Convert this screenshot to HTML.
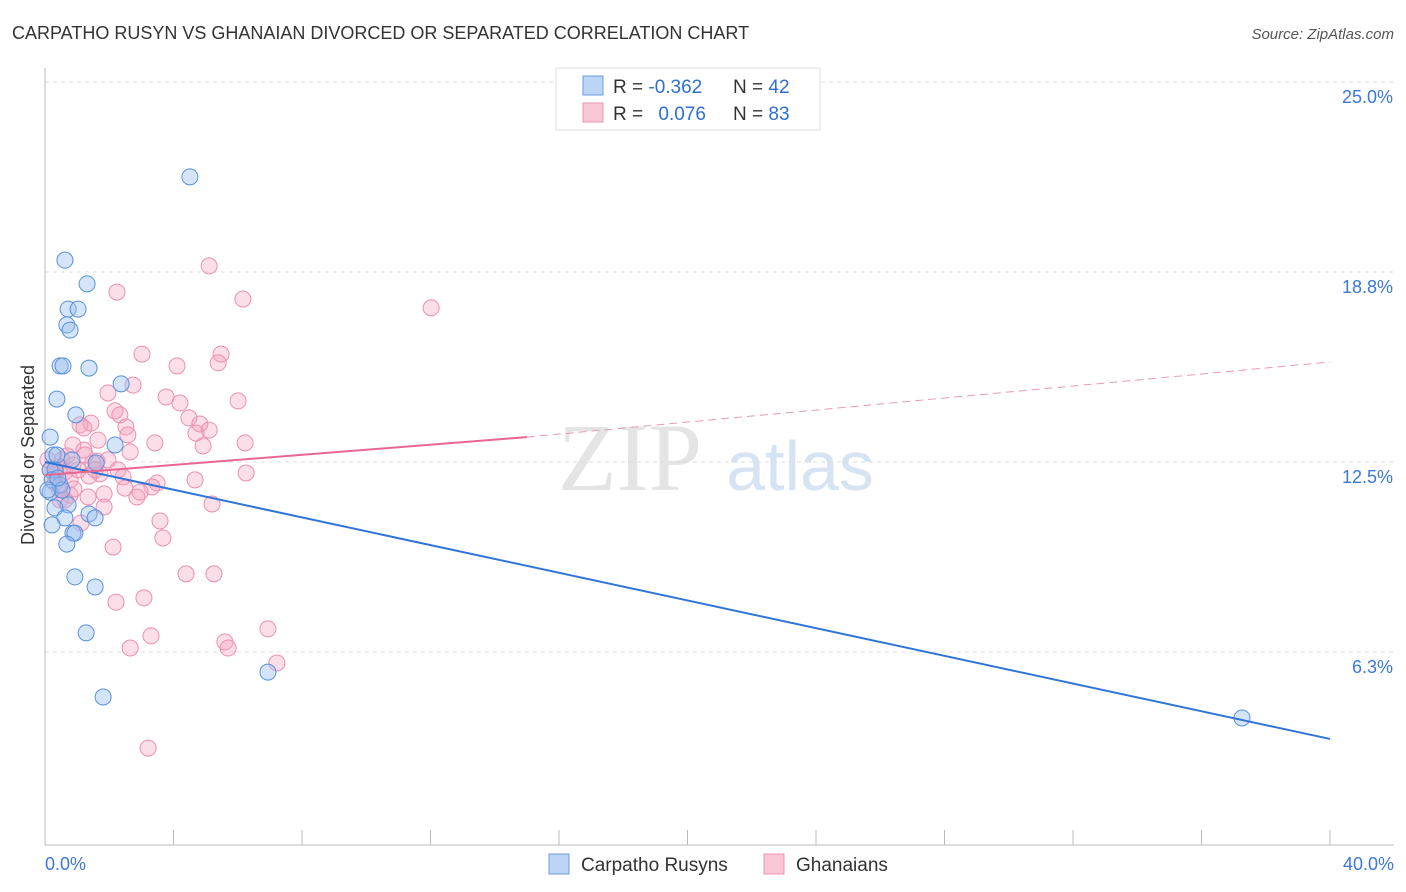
<!DOCTYPE html>
<html><head><meta charset="utf-8"><style>
body{margin:0;background:#fff;font-family:"Liberation Sans",sans-serif;}
#wrap{position:relative;width:1406px;height:892px;overflow:hidden;}
</style></head><body>
<div id="wrap">
<svg id="chart" width="1406" height="892">
<text x="12" y="39" font-size="18" fill="#333">CARPATHO RUSYN VS GHANAIAN DIVORCED OR SEPARATED CORRELATION CHART</text>
<text x="1394" y="39" font-size="15" fill="#555" font-style="italic" text-anchor="end">Source: ZipAtlas.com</text>
<text x="630" y="490" font-size="96" fill="#e4e4e4" font-family="Liberation Serif,serif" text-anchor="middle">ZIP</text>
<text x="800" y="490" font-size="70" fill="#d6e3f3" text-anchor="middle">atlas</text>
<text transform="translate(34,455) rotate(-90)" font-size="18" fill="#333" text-anchor="middle">Divorced or Separated</text>
<g id="grid"></g><g id="axes"></g><g id="pts"></g><g id="lines"></g>
<g>
<rect x="556" y="68" width="264" height="62" fill="#fff" stroke="#ddd"/>
<rect x="583" y="76" width="20" height="19" fill="#bcd4f5" stroke="#6a9be0"/>
<rect x="583" y="103" width="20" height="19" fill="#f9c6d6" stroke="#ec93b0"/>
<text x="613" y="93" font-size="19" fill="#333">R = <tspan fill="#2f6fd0">-0.362</tspan><tspan x="733">N = </tspan><tspan fill="#2f6fd0">42</tspan></text>
<text x="613" y="120" font-size="19" fill="#333">R = <tspan fill="#2f6fd0" dx="10">0.076</tspan><tspan x="733">N = </tspan><tspan fill="#2f6fd0">83</tspan></text>
</g>
<g>
<rect x="549" y="854" width="20" height="20" fill="#bcd4f5" stroke="#6a9be0"/>
<text x="581" y="871" font-size="19" fill="#333">Carpatho Rusyns</text>
<rect x="764" y="854" width="20" height="20" fill="#f9c6d6" stroke="#ec93b0"/>
<text x="796" y="871" font-size="19" fill="#333">Ghanaians</text>
</g>
</svg></div>
<script>
const yTicks=[6.25,12.5,18.75,25];
const yTickLabels=["6.3%","12.5%","18.8%","25.0%"];
const xTickLabels=["0.0%","40.0%"];
const rusynX=[4.51,0.62,1.31,0.72,1.03,0.68,0.78,0.47,0.56,1.37,2.37,0.37,0.96,0.16,2.18,0.25,0.37,0.84,1.59,0.16,0.31,0.22,0.16,0.47,0.53,0.72,0.31,1.37,1.56,0.62,0.22,0.87,0.93,0.68,0.93,1.56,1.28,1.81,6.94,37.26,0.09,0.40];
const rusynY=[21.88,19.14,18.36,17.53,17.53,17.01,16.84,15.66,15.66,15.59,15.07,14.57,14.05,13.32,13.06,12.73,12.73,12.57,12.47,12.24,12.24,11.91,11.51,11.74,11.58,11.09,10.99,10.79,10.66,10.66,10.43,10.16,10.16,9.80,8.72,8.39,6.88,4.77,5.59,4.08,11.58,11.97];
const ghanaX=[5.11,2.24,6.16,12.02,3.02,5.48,4.11,5.39,2.74,1.96,3.77,6.01,4.20,2.18,4.48,2.33,1.43,1.09,1.21,2.52,4.82,5.11,4.70,2.58,3.42,6.23,4.92,1.21,2.65,0.68,1.62,1.49,0.87,0.47,0.62,0.31,6.26,1.71,2.43,1.37,4.67,3.49,3.33,2.49,2.96,0.78,1.84,1.34,2.86,0.44,0.90,5.20,1.84,3.58,1.12,3.67,2.12,4.39,5.26,2.21,3.08,3.30,6.94,5.60,5.70,2.65,7.22,3.21,0.34,0.53,0.78,1.03,0.16,0.31,0.62,1.96,1.56,2.27,1.25,0.47,1.65,0.87,0.09];
const ghanaY=[18.95,18.09,17.86,17.57,16.05,16.05,15.66,15.76,15.03,14.77,14.64,14.51,14.44,14.18,13.95,14.05,13.78,13.72,13.62,13.65,13.75,13.55,13.45,13.39,13.13,13.13,13.03,12.89,12.83,12.70,12.53,12.47,12.40,12.34,12.17,12.07,12.14,12.11,12.01,12.04,11.91,11.81,11.68,11.64,11.51,11.41,11.45,11.35,11.35,11.61,11.61,11.12,11.02,10.56,10.49,10.0,9.70,8.82,8.82,7.89,8.03,6.78,7.01,6.58,6.38,6.38,5.89,3.09,12.17,12.57,11.91,12.24,12.24,11.81,11.25,12.57,12.24,12.24,12.73,11.25,13.22,13.06,12.57];
const rusynTrend=[[0,12.5],[40,3.39]];
const ghanaTrend=[[0,12.07],[15.0,13.32],[40,15.79]];
const NS="http://www.w3.org/2000/svg";
const sx=v=>45+v/40*1285, sy=v=>462-(v-12.5)*30.4;
function mk(tag,attrs,parent){const e=document.createElementNS(NS,tag);for(const k in attrs)e.setAttribute(k,attrs[k]);document.getElementById(parent).appendChild(e);return e;}
yTicks.forEach((t,i)=>{
 const g=mk('line',{x1:45,x2:1394,y1:sy(t),y2:sy(t),stroke:'#ddd','stroke-dasharray':'4,4'},'grid');
 
 
 const l=mk('text',{x:1393,y:sy(t)+21,'font-size':18,fill:'#3b78d8','text-anchor':'end'},'grid');
 l.textContent=yTickLabels[i];
 
 
});
let ax=mk('line',{x1:45,x2:45,y1:68,y2:845,stroke:'#bbb'},'axes');


let bx=mk('line',{x1:45,x2:1394,y1:845,y2:845,stroke:'#bbb'},'axes');


for(let i=0;i<=10;i++){const v=i*4;const t=mk('line',{x1:sx(v),x2:sx(v),y1:830,y2:845,stroke:'#bbb'},'axes');
 
 }
[[0,'start',45],[40,'end',1394]].forEach((d,i)=>{const t=mk('text',{x:d[2],y:870,'font-size':18,fill:'#3b78d8','text-anchor':d[1]},'axes');t.textContent=xTickLabels[i];
 
 });
ghanaX.forEach((x,i)=>{const c=mk('circle',{cx:sx(x),cy:sy(ghanaY[i]),r:8,fill:'rgba(244,160,190,0.35)',stroke:'#ec8fb0','stroke-width':1},'pts');
 
 });
rusynX.forEach((x,i)=>{const c=mk('circle',{cx:sx(x),cy:sy(rusynY[i]),r:8,fill:'rgba(150,190,240,0.4)',stroke:'#5a90dc','stroke-width':1},'pts');
 
 });
let l1=mk('line',{x1:sx(rusynTrend[0][0]),y1:sy(rusynTrend[0][1]),x2:sx(rusynTrend[1][0]),y2:sy(rusynTrend[1][1]),stroke:'#2f74d6','stroke-width':2},'lines');


let l2=mk('line',{x1:sx(ghanaTrend[0][0]),y1:sy(ghanaTrend[0][1]),x2:sx(ghanaTrend[1][0]),y2:sy(ghanaTrend[1][1]),stroke:'#e8668f','stroke-width':2},'lines');


let l3=mk('line',{x1:sx(ghanaTrend[1][0]),y1:sy(ghanaTrend[1][1]),x2:sx(ghanaTrend[2][0]),y2:sy(ghanaTrend[2][1]),stroke:'#e89ab3','stroke-width':1,'stroke-dasharray':'8,5'},'lines');


</script>
</body></html>
